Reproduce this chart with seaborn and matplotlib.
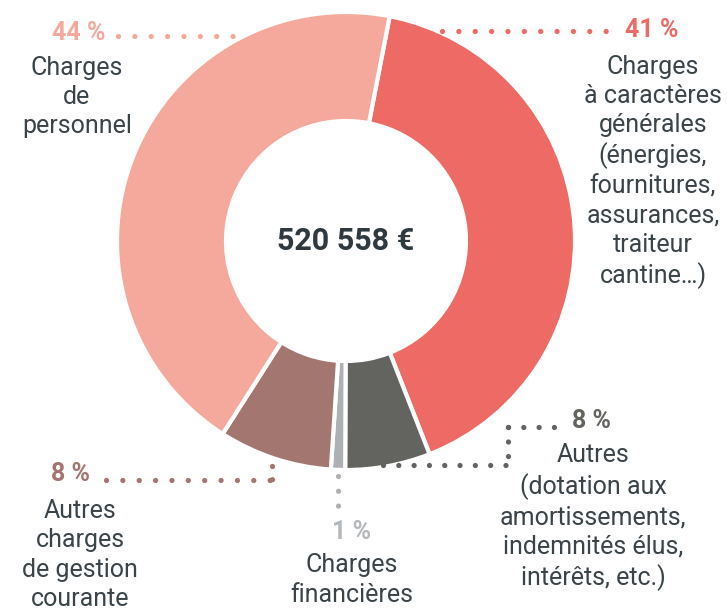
import numpy as np
import seaborn as sns
import matplotlib.pyplot as plt

# slice shares as drawn (clockwise from the top), and their printed labels
categories = ["Charges à caractères générales", "Autres", "Charges financières",
              "Autres charges de gestion courante", "Charges de personnel"]
shares = [41, 6, 1, 8, 44]
pct_labels = ["41 %", "8 %", "1 %", "8 %", "44 %"]
colors = ["#ee6a64", "#63635f", "#aeb1b3", "#a3766f", "#f5a99c"]
total_label = "520 558 €"

sns.set_theme(style="white")
plt.rcParams["font.family"] = ["Roboto", "DejaVu Sans"]

W, H = 727, 610
fig = plt.figure(figsize=(W / 100, H / 100), dpi=100)
ax = fig.add_axes([0, 0, 1, 1])


def Y(y):
    return H - y


cx, cy, R, r_in = 346, Y(241), 229, 120
ax.pie(shares, colors=colors, startangle=79, counterclock=False,
       center=(cx, cy), radius=R, frame=True,
       wedgeprops=dict(width=R - r_in, edgecolor="white", linewidth=3))
ax.set_xlim(0, W)
ax.set_ylim(0, H)
ax.set_aspect("equal")
ax.axis("off")

ax.text(cx, cy, total_label, ha="center", va="center", fontsize=22,
        fontweight="bold", color="#2f3a40")

txt = "#3a4448"
fs = 18
ls = 1.27


def dots(xs, ys, c, gap=3.1):
    ax.plot(xs, [Y(v) for v in ys], color=c, lw=3.8,
            linestyle=(0, (0.001, gap)), dash_capstyle="round",
            solid_capstyle="round", zorder=5)


# 44 % personnel
dots([118, 234], [36, 36], colors[4])
ax.text(105, Y(33), pct_labels[4], ha="right", va="center", fontsize=fs,
        fontweight="bold", color=colors[4])
ax.text(77, Y(97), "Charges\nde\npersonnel", ha="center", va="center",
        fontsize=fs, color=txt, linespacing=ls)

# 41 % charges generales
dots([442, 607], [31, 31], colors[0])
ax.text(625, Y(30), pct_labels[0], ha="left", va="center", fontsize=fs,
        fontweight="bold", color=colors[0])
ax.text(653, Y(172), "Charges\nà caractères\ngénérales\n(énergies,\nfournitures,\n"
        "assurances,\ntraiteur\ncantine…)", ha="center", va="center",
        fontsize=fs, color=txt, linespacing=ls)

# 8 % autres
dots([383, 509], [465, 465], colors[1], gap=2.9)
dots([508, 508], [427, 466], colors[1], gap=2.75)
dots([508, 558], [427, 427], colors[1], gap=2.9)
ax.text(572, Y(421), pct_labels[1], ha="left", va="center", fontsize=fs,
        fontweight="bold", color=colors[1])
ax.text(593, Y(517), "Autres\n(dotation aux\namortissements,\nindemnités élus,\n"
        "intérêts, etc.)", ha="center", va="center", fontsize=fs, color=txt,
        linespacing=ls)

# 1 % financieres
dots([338, 338], [476, 507], colors[2], gap=2.8)
ax.text(352, Y(532), pct_labels[2], ha="center", va="center", fontsize=fs,
        fontweight="bold", color="#b5b8ba")
ax.text(352, Y(580), "Charges\nfinancières", ha="center", va="center",
        fontsize=fs, color=txt, linespacing=ls)

# 8 % gestion courante
dots([106, 273], [480, 480], colors[3])
dots([272, 272], [466, 480], colors[3], gap=2.5)
ax.text(90, Y(474), pct_labels[3], ha="right", va="center", fontsize=fs,
        fontweight="bold", color=colors[3])
ax.text(80, Y(555), "Autres\ncharges\nde gestion\ncourante", ha="center",
        va="center", fontsize=fs, color=txt, linespacing=ls)

fig.savefig("out.png", dpi=100)
